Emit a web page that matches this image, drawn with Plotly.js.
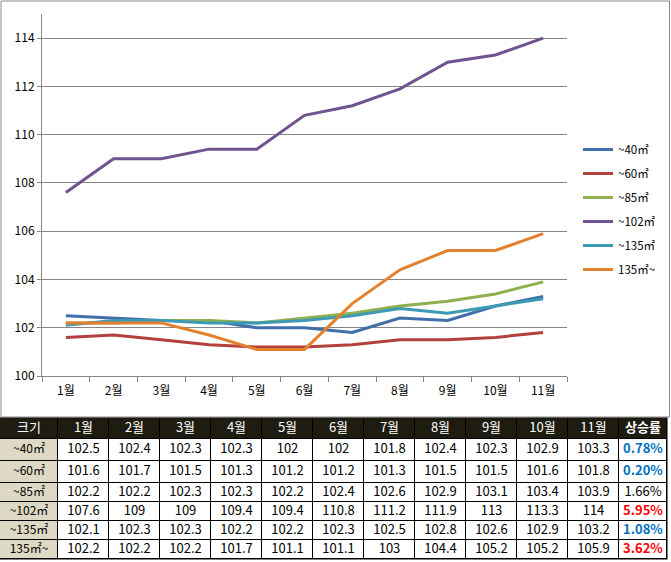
<!DOCTYPE html>
<html>
<head>
<meta charset="utf-8">
<script src="https://cdn.plot.ly/plotly-3.0.1.min.js"></script>
<style>html,body{margin:0;padding:0;background:#fff;}#chart{width:671px;height:562px;}</style>
</head>
<body>
<div id="chart"></div>
<script>
// ---- data ----
var months = ["1월","2월","3월","4월","5월","6월","7월","8월","9월","10월","11월"];
var seriesNames = ["~40㎡","~60㎡","~85㎡","~102㎡","~135㎡","135㎡~"];
var s40  = [102.5,102.4,102.3,102.3,102,102,101.8,102.4,102.3,102.9,103.3];
var s60  = [101.6,101.7,101.5,101.3,101.2,101.2,101.3,101.5,101.5,101.6,101.8];
var s85  = [102.2,102.2,102.3,102.3,102.2,102.4,102.6,102.9,103.1,103.4,103.9];
var s102 = [107.6,109,109,109.4,109.4,110.8,111.2,111.9,113,113.3,114];
var s135 = [102.1,102.3,102.3,102.2,102.2,102.3,102.5,102.8,102.6,102.9,103.2];
var s135p= [102.2,102.2,102.2,101.7,101.1,101.1,103,104.4,105.2,105.2,105.9];
var growth = ["0.78%","0.20%","1.66%","5.95%","1.08%","3.62%"];
var sizeHeader = "크기";
var growthHeader = "상승률";

// ---- styles ----
var colors = ["#416fac","#b4403d","#8fb050","#71538f","#3d9ab5","#e3812f"];
var growthColors = ["#0070c0","#0070c0","#000000","#ff0000","#0070c0","#ff0000"];
var colWidths = [58,51,51,51,51,51,51,51,51,51,51,51,48];
var rowHeights = [21,22,22,19,19,19,19];

var W = 671, H = 562;
function px(x){return x/W;}
function py(y){return 1 - y/H;}

var allSeries = [s40,s60,s85,s102,s135,s135p];
var headerLabels = [sizeHeader].concat(months).concat([growthHeader]);

var traces = allSeries.map(function(s,i){
  return {
    type:"scatter", mode:"lines", x:months, y:s, name:seriesNames[i],
    legendgroup:"g"+i,
    line:{color:colors[i], width:3},
    xaxis:"x", yaxis:"y", hoverinfo:"skip"
  };
});

// ---- table grid (heatmap) ----
var xb = [0]; colWidths.forEach(function(w){xb.push(xb[xb.length-1]+w);});
var yb = [0]; rowHeights.forEach(function(h){yb.push(yb[yb.length-1]+h);});
var nCols = headerLabels.length, nRows = seriesNames.length + 1;
var z = [];
for (var r=0;r<nRows;r++){
  var row=[];
  for (var c=0;c<nCols;c++){
    row.push(r===0 ? 2 : (c===0 ? 0 : 1));
  }
  z.push(row);
}
traces.push({
  type:"heatmap", x:xb, y:yb, z:z, xaxis:"x2", yaxis:"y2",
  zmin:0, zmax:2, showscale:false, xgap:1, ygap:1, hoverinfo:"skip",
  colorscale:[[0,"#ddd9c4"],[0.5,"#ffffff"],[1,"#1e1b10"]]
});

// ---- table text ----
var tx=[], ty=[], tt=[], tc=[], ts=[];
function cx(c){return (xb[c]+xb[c+1])/2;}
function cy(r){return (yb[r]+yb[r+1])/2;}
headerLabels.forEach(function(h,c){
  tx.push(cx(c)); ty.push(cy(0));
  tt.push(h===growthHeader ? "<b>"+h+"</b>" : h); tc.push("#ffffff"); ts.push(13);
});
seriesNames.forEach(function(n,r){
  tx.push(cx(0)); ty.push(cy(r+1)); tt.push(n); tc.push("#000000"); ts.push(12);
  allSeries[r].forEach(function(v,m){
    tx.push(cx(m+1)); ty.push(cy(r+1)); tt.push(String(v)); tc.push("#000000"); ts.push(13);
  });
  tx.push(cx(nCols-1)); ty.push(cy(r+1));
  tt.push(growthColors[r]==="#000000" ? growth[r] : "<b>"+growth[r]+"</b>");
  tc.push(growthColors[r]); ts.push(13);
});
traces.push({
  type:"scatter", mode:"text", x:tx, y:ty, text:tt, xaxis:"x2", yaxis:"y2",
  textposition:"middle center", showlegend:false, hoverinfo:"skip",
  textfont:{family:"'Noto Sans CJK KR', sans-serif", size:ts, color:tc}
});

var tableTop = 418, tableBottom = tableTop + yb[yb.length-1];

var layout = {
  width:W, height:H,
  margin:{l:0,r:0,t:0,b:0},
  paper_bgcolor:"#ffffff", plot_bgcolor:"rgba(0,0,0,0)",
  showlegend:true,
  font:{family:"'Noto Sans CJK KR', sans-serif", color:"#000"},
  xaxis:{
    domain:[px(42), px(567)],
    anchor:"y",
    type:"category",
    showgrid:false,
    showline:true, linecolor:"#868686", linewidth:1,
    ticks:"outside", ticklen:5, tickcolor:"#868686", tickson:"boundaries",
    tickfont:{size:12, color:"#000"},
    ticklabelstandoff:4,
    range:[-0.5,10.5],
    fixedrange:true
  },
  yaxis:{
    domain:[py(376), py(14)],
    anchor:"x",
    range:[100,115],
    tick0:100, dtick:2,
    showgrid:true, gridcolor:"#868686", gridwidth:1,
    zeroline:false,
    showline:true, linecolor:"#868686", linewidth:1,
    ticks:"outside", ticklen:4, tickcolor:"#868686",
    tickfont:{size:12, color:"#000"},
    fixedrange:true
  },
  xaxis2:{
    domain:[0, px(xb[xb.length-1])], anchor:"y2",
    range:[0, xb[xb.length-1]],
    visible:false, fixedrange:true
  },
  yaxis2:{
    domain:[py(tableBottom), py(tableTop)], anchor:"x2",
    range:[yb[yb.length-1], 0],
    visible:false, fixedrange:true
  },
  legend:{
    x:px(578), y:py(135), xanchor:"left", yanchor:"top",
    bgcolor:"rgba(0,0,0,0)",
    font:{size:11.5, color:"#000"},
    tracegroupgap:5,
    itemwidth:30
  },
  shapes:[
    {type:"rect", xref:"paper", yref:"paper", x0:px(1), x1:px(669.5), y0:py(417), y1:py(1),
     line:{color:"#8a8a8a", width:1}, fillcolor:"rgba(0,0,0,0)", layer:"below"},
    {type:"rect", xref:"paper", yref:"paper", x0:px(-0.5), x1:px(xb[xb.length-1]+0.5),
     y0:py(tableBottom+0.5), y1:py(tableTop-0.5),
     line:{width:0}, fillcolor:"#000000", layer:"below"}
  ]
};

Plotly.newPlot("chart", traces, layout, {displayModeBar:false, staticPlot:true});
</script>
</body>
</html>
